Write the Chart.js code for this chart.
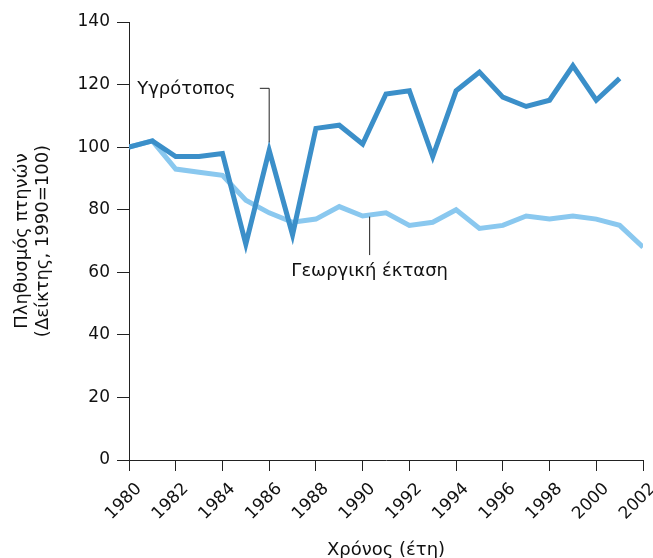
<!DOCTYPE html>
<html>
<head>
<meta charset="utf-8">
<script src="https://cdn.jsdelivr.net/npm/chart.js@4"></script>
<style>
  html, body { margin: 0; padding: 0; background: #fff; }
  #wrap { width: 653px; height: 558px; }
</style>
</head>
<body>
<div id="wrap"><canvas id="birdChart"></canvas></div>
<script>
// Δεδομένα (δείκτης, 1990=100)
var years = [1980, 1981, 1982, 1983, 1984, 1985, 1986, 1987, 1988, 1989, 1990, 1991,
             1992, 1993, 1994, 1995, 1996, 1997, 1998, 1999, 2000, 2001, 2002];
var wetland = [100, 102, 97, 97, 98, 69, 99, 72, 106, 107, 101, 117,
               118, 97, 118, 124, 116, 113, 115, 126, 115, 122, null];
var farmland = [100, 102, 93, 92, 91, 83, 79, 76, 77, 81, 78, 79,
                75, 76, 80, 74, 75, 78, 77, 78, 77, 75, 68];
var yTicks = [0, 20, 40, 60, 80, 100, 120, 140];
var xTicks = [1980, 1982, 1984, 1986, 1988, 1990, 1992, 1994, 1996, 1998, 2000, 2002];

var fontName = "'DejaVu Sans', Verdana, sans-serif";

function toPoints(vals) {
    return years.map((y, i) => ({ x: y, y: vals[i] }));
}

// Ετικέτες με γραμμές οδηγούς
var labelPlugin = {
    id: 'seriesLabels',
    afterDatasetsDraw(chart) {
        const ctx = chart.ctx;
        const xs = chart.scales.x, ys = chart.scales.y;
        ctx.save();
        ctx.strokeStyle = '#222';
        ctx.lineWidth = 1;
        ctx.fillStyle = '#111';
        ctx.font = '18px ' + fontName;
        ctx.textBaseline = 'middle';

        // Υγρότοπος
        ctx.beginPath();
        ctx.moveTo(xs.getPixelForValue(1985.6), ys.getPixelForValue(118.8));
        ctx.lineTo(xs.getPixelForValue(1986), ys.getPixelForValue(118.8));
        ctx.lineTo(xs.getPixelForValue(1986), ys.getPixelForValue(101.5));
        ctx.stroke();
        ctx.textAlign = 'left';
        ctx.fillText('Υγρότοπος', xs.getPixelForValue(1980.35), ys.getPixelForValue(118.5));

        // Γεωργική έκταση
        ctx.beginPath();
        ctx.moveTo(xs.getPixelForValue(1990.3), ys.getPixelForValue(77.8));
        ctx.lineTo(xs.getPixelForValue(1990.3), ys.getPixelForValue(65.5));
        ctx.stroke();
        ctx.textAlign = 'center';
        ctx.fillText('Γεωργική έκταση', xs.getPixelForValue(1990.3), ys.getPixelForValue(60.2));
        ctx.restore();
    }
};

var ctx = document.getElementById('birdChart').getContext('2d');
var birdChart = new Chart(ctx, {
    type: 'line',
    data: {
        datasets: [
            {
                label: 'Υγρότοπος',
                data: toPoints(wetland),
                borderColor: '#3b8fc9',
                borderWidth: 5,
                pointRadius: 0,
                tension: 0,
                spanGaps: false
            },
            {
                label: 'Γεωργική έκταση',
                data: toPoints(farmland),
                borderColor: '#8ac8ef',
                borderWidth: 5,
                pointRadius: 0,
                tension: 0
            }
        ]
    },
    options: {
        responsive: true,
        maintainAspectRatio: false,
        animation: false,
        layout: { padding: { top: 22, right: 10, left: 12, bottom: 0 } },
        plugins: {
            legend: { display: false },
            tooltip: { enabled: false }
        },
        scales: {
            x: {
                type: 'linear',
                min: 1980,
                max: 2002,
                afterBuildTicks: (scale) => { scale.ticks = xTicks.map(v => ({ value: v })); },
                afterFit: (scale) => {
                    scale.height = 98;
                    scale.paddingLeft = 0;
                    scale.paddingRight = 0;
                },
                border: { color: '#222', width: 1 },
                grid: { drawOnChartArea: false, color: '#222', tickLength: 11 },
                ticks: {
                    color: '#111',
                    font: { family: fontName, size: 17 },
                    minRotation: 45,
                    maxRotation: 45,
                    padding: 8,
                    labelOffset: 10,
                    callback: (v) => String(v)
                },
                title: {
                    display: true,
                    text: 'Χρόνος (έτη)',
                    color: '#111',
                    font: { family: fontName, size: 18 },
                    padding: { top: 8, bottom: -3 }
                }
            },
            y: {
                min: 0,
                max: 140,
                afterBuildTicks: (scale) => { scale.ticks = yTicks.map(v => ({ value: v })); },
                afterFit: (scale) => { scale.width = 117; },
                border: { color: '#222', width: 1 },
                grid: { drawOnChartArea: false, color: '#222', tickLength: 12 },
                ticks: {
                    color: '#111',
                    font: { family: fontName, size: 17 },
                    padding: 7
                },
                title: {
                    display: true,
                    text: ['Πληθυσμός πτηνών', '(Δείκτης, 1990=100)'],
                    color: '#111',
                    font: { family: fontName, size: 18, lineHeight: 1.15 },
                    padding: { top: 0, bottom: 0 }
                }
            }
        }
    },
    plugins: [labelPlugin]
});
</script>
</body>
</html>
